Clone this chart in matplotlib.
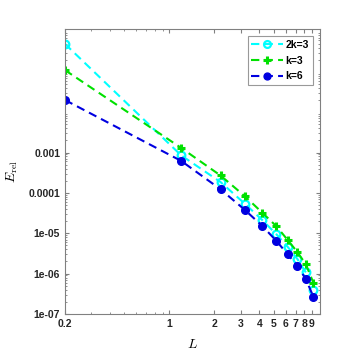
import matplotlib
matplotlib.use("Agg")
import matplotlib.pyplot as plt
from matplotlib.ticker import FixedLocator, NullFormatter, LogLocator

L = [0.2, 1.2, 2.2, 3.2, 4.2, 5.2, 6.2, 7.2, 8.2, 9.2]
err_2k3 = [0.49, 8.5e-4, 1.86e-4, 5.4e-5, 2.1e-5, 9.5e-6, 4.6e-6, 2.3e-6, 1.07e-6, 4.0e-7]
err_k3 = [0.11, 1.3e-3, 2.7e-4, 8.3e-5, 3.2e-5, 1.5e-5, 6.8e-6, 3.4e-6, 1.7e-6, 6.0e-7]
err_k6 = [0.020, 6.2e-4, 1.23e-4, 3.8e-5, 1.5e-5, 6.5e-6, 3.0e-6, 1.56e-6, 7.3e-7, 2.7e-7]
series_labels = ["2k=3", "k=3", "k=6"]
xtick_vals = [0.2, 1, 2, 3, 4, 5, 6, 7, 8, 9]
xtick_labels = ["0.2", "1", "2", "3", "4", "5", "6", "7", "8", "9"]
ytick_vals = [1e-7, 1e-6, 1e-5, 1e-4, 1e-3]
ytick_labels = ["1e-07", "1e-06", "1e-05", "0.0001", "0.001"]

plt.rcParams['font.family'] = ['Liberation Sans', 'DejaVu Sans']
plt.rcParams['mathtext.fontset'] = 'cm'

fig = plt.figure(figsize=(3.57, 3.57), dpi=100)
ax = fig.add_axes([65/357, 1 - 314/357, (320-65)/357, (314-29)/357])

ax.plot(L, err_2k3, ls='--', color='cyan', lw=1.5, marker='o', ms=5.5,
        mfc='none', mec='cyan', mew=1.6, label=series_labels[0], dashes=(4, 2.5))
ax.plot(L, err_k3, ls='--', color='#00e000', lw=1.5, marker='+', ms=6,
        mew=2.2, label=series_labels[1], dashes=(4, 2.5))
ax.plot(L, err_k6, ls='--', color='#0000e0', lw=1.5, marker='o', ms=5.5,
        mfc='#0000e0', mec='#0000e0', label=series_labels[2], dashes=(4, 2.5))

ax.set_xscale('log')
ax.set_yscale('log')
ax.set_xlim(0.2, 10.2)
ax.set_ylim(1e-7, 1.15)

ax.xaxis.set_major_locator(FixedLocator(xtick_vals))
ax.set_xticklabels(xtick_labels)
ax.xaxis.set_minor_locator(FixedLocator([0.3, 0.4, 0.5, 0.6, 0.7, 0.8, 0.9]))
ax.xaxis.set_minor_formatter(NullFormatter())
ax.yaxis.set_major_locator(FixedLocator(ytick_vals))
ax.set_yticklabels(ytick_labels)
ax.yaxis.set_minor_locator(LogLocator(base=10, subs=range(2, 10), numticks=20))
ax.yaxis.set_minor_formatter(NullFormatter())

for sp in ax.spines.values():
    sp.set_color('#808080')
    sp.set_linewidth(0.8)
ax.tick_params(which='both', direction='in', top=True, right=True, colors='#808080',
               labelcolor='#262626', labelsize=7.5)
ax.tick_params(which='major', length=3)
ax.tick_params(which='minor', length=1.6)
for t in ax.get_xticklabels() + ax.get_yticklabels():
    t.set_fontweight('bold')

ax.set_xlabel('$L$', fontsize=10, labelpad=6)
ax.set_ylabel(r'$E_{\rm rel}$', fontsize=10, labelpad=6)

leg = ax.legend(loc='upper right', fontsize=7.5, frameon=True, fancybox=False,
                edgecolor='#808080', handlelength=3.0, borderpad=0.35,
                labelspacing=0.55, handletextpad=0.3, borderaxespad=0.7,
                markerscale=0.9)
leg.get_frame().set_linewidth(0.8)
for t in leg.get_texts():
    t.set_fontweight('bold')

fig.savefig('out.png', dpi=100)
